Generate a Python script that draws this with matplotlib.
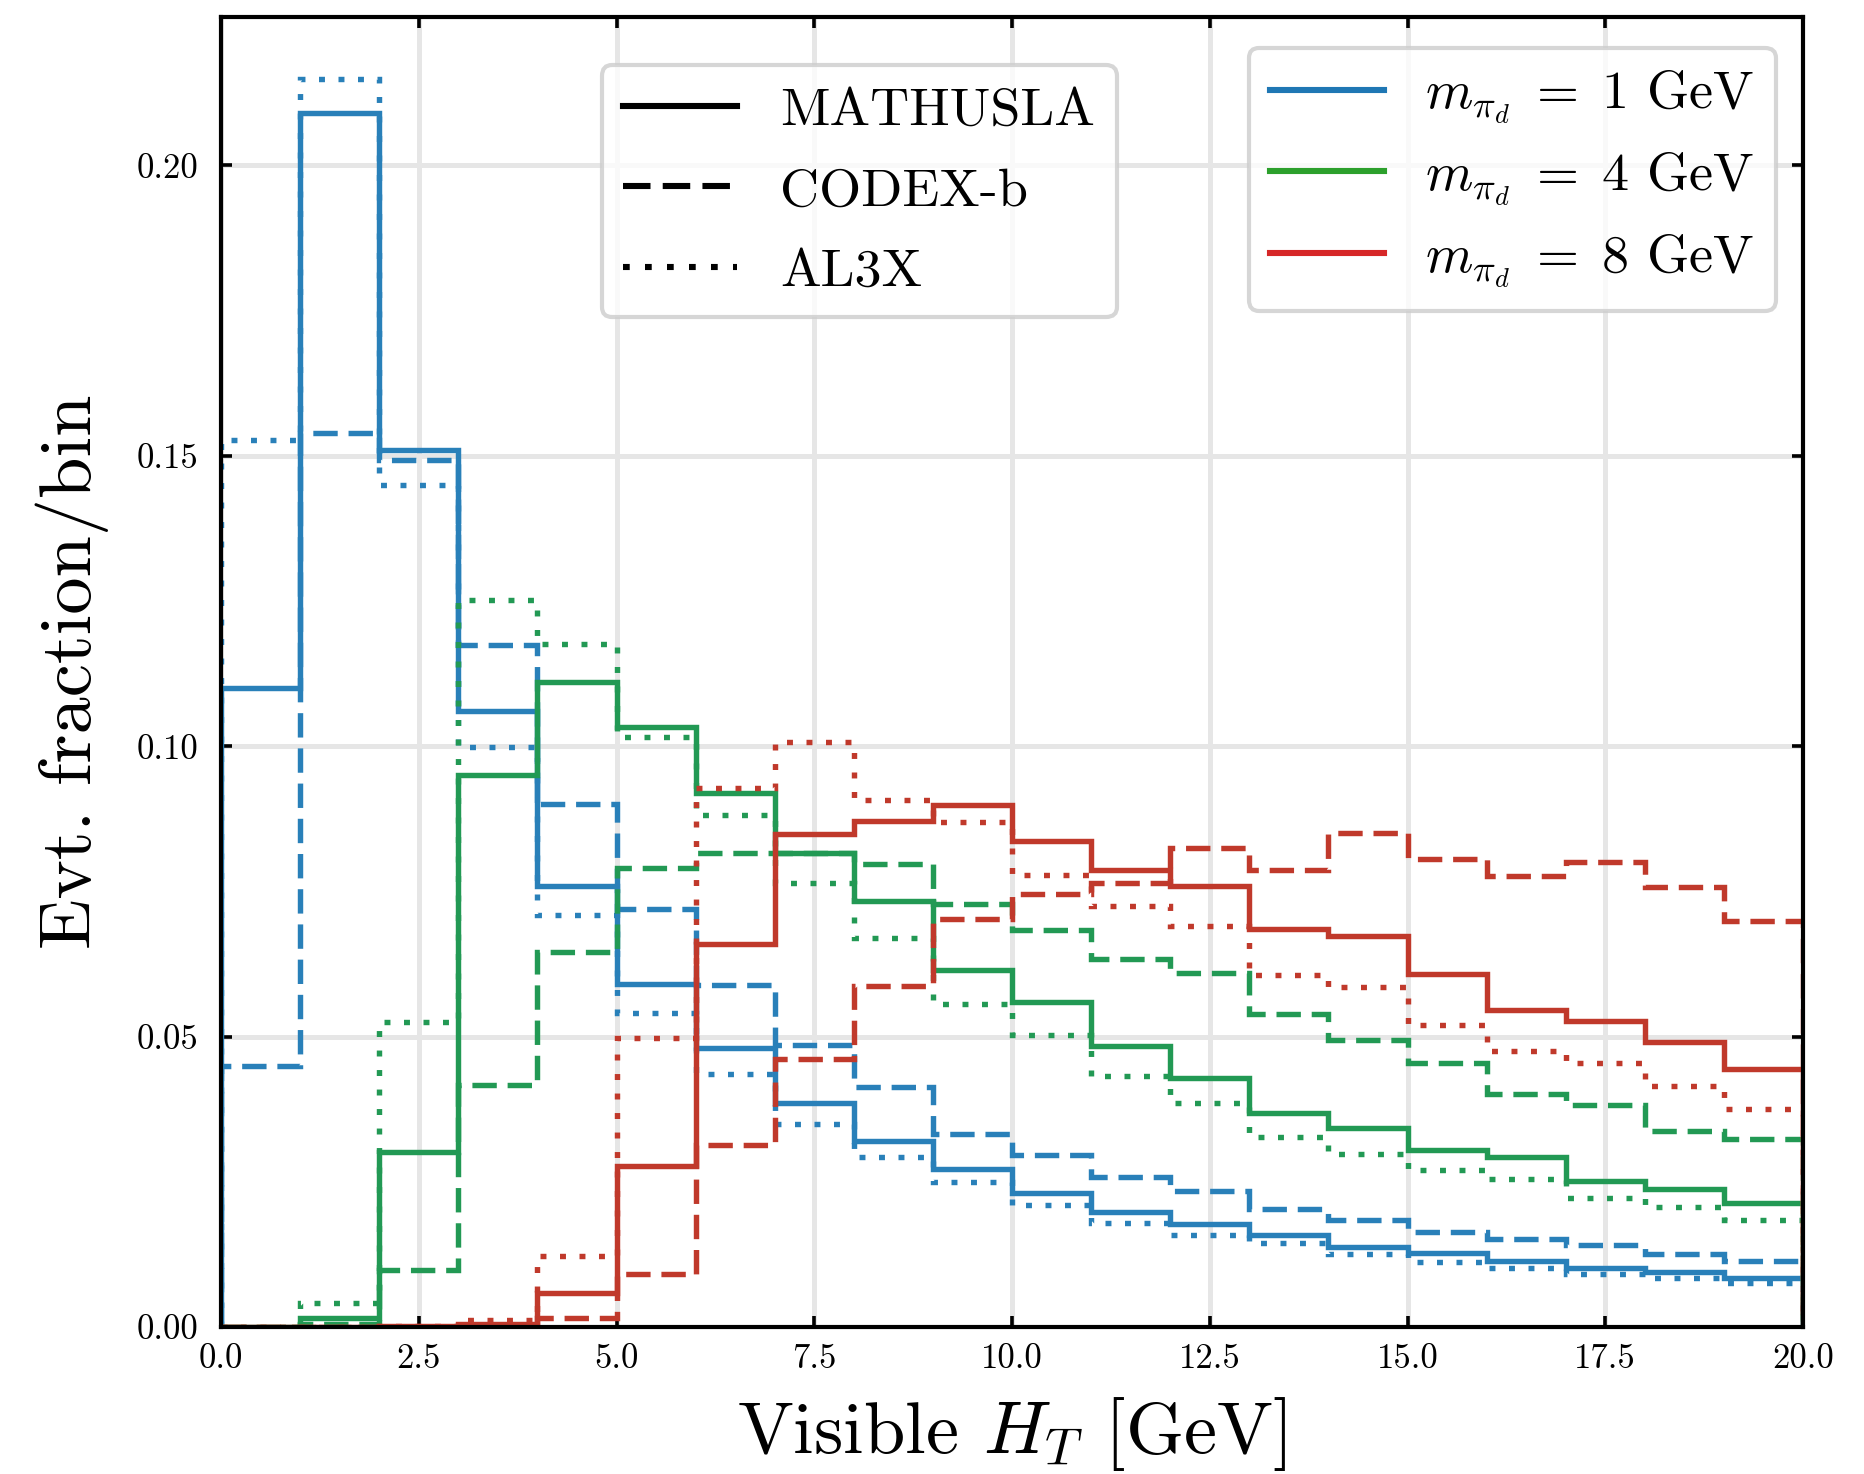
import numpy as np
import matplotlib
matplotlib.use("Agg")
from matplotlib import pyplot as plt
from matplotlib.lines import Line2D

plt.rcParams['font.family'] = 'serif'
plt.rcParams['font.serif'] = ['cmr10']
plt.rcParams['mathtext.fontset'] = 'cm'
plt.rcParams['axes.formatter.use_mathtext'] = True

edges = np.arange(0, 21, 1)

# m_pi_d = 1 GeV
m1_mathusla = [0.110, 0.209, 0.151, 0.106, 0.076, 0.059, 0.048, 0.0385, 0.032, 0.0272,
               0.023, 0.0198, 0.0177, 0.0159, 0.0138, 0.0127, 0.0113, 0.0102, 0.0094, 0.0085]
m1_codex = [0.045, 0.154, 0.1493, 0.1175, 0.090, 0.072, 0.0589, 0.0486, 0.0413, 0.0332,
            0.0296, 0.0258, 0.0235, 0.0204, 0.0185, 0.0164, 0.0151, 0.0142, 0.0126, 0.0114]
m1_al3x = [0.1528, 0.2149, 0.1449, 0.0999, 0.0709, 0.054, 0.0436, 0.035, 0.0292, 0.0249,
           0.021, 0.0179, 0.0159, 0.0144, 0.0125, 0.0112, 0.0101, 0.0091, 0.0084, 0.0076]

# m_pi_d = 4 GeV
m4_mathusla = [0.0, 0.0015, 0.0301, 0.0951, 0.1111, 0.1033, 0.092, 0.0816, 0.0733, 0.0614,
               0.056, 0.0484, 0.0429, 0.0369, 0.0343, 0.0305, 0.0292, 0.0251, 0.0237, 0.0213]
m4_codex = [0.0, 0.0005, 0.0099, 0.0416, 0.0646, 0.079, 0.0816, 0.0816, 0.0798, 0.0729,
            0.0683, 0.0633, 0.0609, 0.0539, 0.0495, 0.0455, 0.0401, 0.0383, 0.0337, 0.0323]
m4_al3x = [0.0, 0.0042, 0.0526, 0.1251, 0.1176, 0.1015, 0.0881, 0.0764, 0.067, 0.0557,
           0.0502, 0.0433, 0.0385, 0.0328, 0.0298, 0.0271, 0.0255, 0.0223, 0.0206, 0.0184]

# m_pi_d = 8 GeV
m8_mathusla = [0.0, 0.0, 0.0001, 0.0006, 0.0059, 0.0278, 0.0659, 0.0848, 0.0872, 0.0899,
               0.0836, 0.0787, 0.0759, 0.0685, 0.0674, 0.0607, 0.0546, 0.0527, 0.049, 0.0444]
m8_codex = [0.0, 0.0, 0.0, 0.0002, 0.0016, 0.0092, 0.0313, 0.0461, 0.0587, 0.0702,
            0.0746, 0.0765, 0.0824, 0.0787, 0.085, 0.0805, 0.0776, 0.0801, 0.0757, 0.0699]
m8_al3x = [0.0, 0.0, 0.0002, 0.0012, 0.0122, 0.0497, 0.0928, 0.1008, 0.0908, 0.087,
           0.0779, 0.0725, 0.0691, 0.0606, 0.0586, 0.052, 0.0475, 0.0454, 0.0415, 0.0376]

detectors = ['MATHUSLA', 'CODEX-b', 'AL3X']
masses = [1, 4, 8]
line_colors = ['#2980b9', '#229954', '#c0392b']
legend_colors = ['tab:blue', 'tab:green', 'tab:red']
styles = ['-', (0, (4.5, 2.0)), (0, (1.1, 2.5))]

hists = [[m1_mathusla, m1_codex, m1_al3x],
         [m4_mathusla, m4_codex, m4_al3x],
         [m8_mathusla, m8_codex, m8_al3x]]

fig = plt.figure(figsize=(9.325, 7.37), dpi=200)
ax = fig.add_axes([0.1185, 0.0997, 0.8483, 0.889])

lw = 1.95
for i in range(3):
    for j in range(3):
        ax.stairs(hists[i][j], edges, color=line_colors[i], linestyle=styles[j], lw=lw)

ax.set_xlim(0, 20)
ax.set_ylim(0, 0.2256)
ax.set_xticks(np.arange(0, 20.1, 2.5))
ax.set_yticks([0.0, 0.05, 0.10, 0.15, 0.20])
ax.set_xticklabels(['%.1f' % v for v in np.arange(0, 20.1, 2.5)])
ax.set_yticklabels(['%.2f' % v for v in [0.0, 0.05, 0.10, 0.15, 0.20]])
ax.grid(True, color='#e6e6e6', lw=1.8, zorder=0)
ax.set_axisbelow(True)
ax.tick_params(direction='in', top=True, right=True, length=4, width=1.3, labelsize=12.5)
ax.tick_params(axis='y', pad=8)
ax.tick_params(axis='x', pad=6)
for s in ax.spines.values():
    s.set_linewidth(1.5)

ax.set_xlabel(r'Visible $H_T$ [GeV]', fontsize=26.8, labelpad=7)
ax.set_ylabel(r'Evt. fraction/bin', fontsize=26.8, labelpad=10)

det_handles = [Line2D([], [], color='black', linestyle=styles[j], lw=2.2) for j in range(3)]
leg1 = ax.legend(det_handles, detectors, loc='upper left', bbox_to_anchor=(0.2406, 0.9628),
                 borderaxespad=0, fontsize=19.5, handlelength=2.1, handletextpad=0.8,
                 labelspacing=0.6, fancybox=True, framealpha=0.8, edgecolor='#cccccc')
leg1.get_frame().set_linewidth(1.5)
ax.add_artist(leg1)

mass_handles = [Line2D([], [], color=legend_colors[i], lw=2.2) for i in range(3)]
mass_labels = [r'$m_{\pi_d}\;=\;%d$ GeV' % m for m in masses]
leg2 = ax.legend(mass_handles, mass_labels, loc='upper right', bbox_to_anchor=(0.9827, 0.9764),
                 borderaxespad=0, fontsize=19.5, handlelength=2.1, handletextpad=0.75,
                 labelspacing=0.45, fancybox=True, framealpha=0.8, edgecolor='#cccccc')
leg2.get_frame().set_linewidth(1.5)

fig.savefig('out.png', dpi=200)
